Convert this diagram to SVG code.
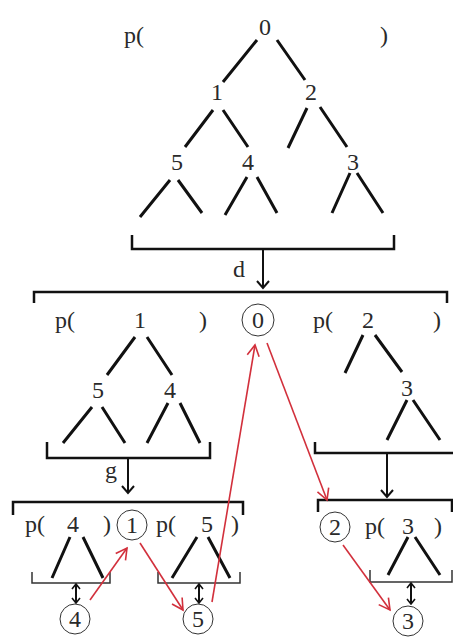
<svg xmlns="http://www.w3.org/2000/svg" width="453" height="637" viewBox="0 0 453 637">
<defs>
<style>
text{font-family:"Liberation Serif","Times New Roman",Times,serif;font-size:24px;fill:#2a2a2a;}
.m{text-anchor:middle;}
.e{stroke:#111;stroke-width:3;stroke-linecap:butt;fill:none;}
.b{stroke:#111;stroke-width:2.5;fill:none;}
.bt{stroke:#333;stroke-width:1.5;fill:none;}
.c{stroke:#333;stroke-width:1;fill:none;}
.k{stroke:#111;stroke-width:2;fill:none;}
.r{stroke:#d2303c;stroke-width:1.6;fill:none;}
</style>
<marker id="ak" markerUnits="userSpaceOnUse" markerWidth="14" markerHeight="14" refX="12" refY="7" orient="auto" viewBox="0 0 14 14">
<path d="M5,1 L12,7 L5,13" fill="none" stroke="#111" stroke-width="2"/>
</marker>
<marker id="ad" markerUnits="userSpaceOnUse" markerWidth="10" markerHeight="10" refX="9" refY="5" orient="auto-start-reverse" viewBox="0 0 10 10">
<path d="M4,1 L9,5 L4,9" fill="none" stroke="#111" stroke-width="1.6"/>
</marker>
<marker id="ar" markerUnits="userSpaceOnUse" markerWidth="16" markerHeight="16" refX="14" refY="8" orient="auto" viewBox="0 0 16 16">
<path d="M3,2 L14,8 L3,14" fill="none" stroke="#d2303c" stroke-width="1.6"/>
</marker>
</defs>
<rect width="453" height="637" fill="#fff"/>

<g id="top-tree">
<text x="124" y="43">p(</text>
<text x="380" y="43">)</text>
<text class="m" x="265" y="35">0</text>
<text class="m" x="217" y="100">1</text>
<text class="m" x="311" y="100">2</text>
<text class="m" x="177" y="170">5</text>
<text class="m" x="248" y="170">4</text>
<text class="m" x="353" y="170">3</text>
<path class="e" d="M257,40 L223,82 M277,40 L305,80 M213,110 L185,147 M223,110 L248,147 M307,108 L288,148 M320,107 L347,147 M170,180 L140,217 M178,180 L202,213 M247,177 L225,215 M257,177 L277,213 M350,173 L332,213 M357,173 L383,213"/>
<path class="b" d="M132,235 V249 H394 V235"/>
</g>

<g id="d-step">
<text x="233" y="277">d</text>
<path class="b" d="M34,303 V292 H447 V303"/>
</g>

<g id="left-tree">
<text x="55" y="328">p(</text>
<text x="199" y="328">)</text>
<text class="m" x="140" y="328">1</text>
<text class="m" x="98" y="398">5</text>
<text class="m" x="170" y="398">4</text>
<path class="e" d="M135,337 L107,375 M147,337 L172,375 M92,407 L63,443 M102,407 L125,443 M168,403 L147,443 M180,403 L200,443"/>
<path class="b" d="M47,442 V458 H210 V442"/>
</g>

<g id="node-0">
<circle class="c" cx="258" cy="320" r="16"/>
<text class="m" x="258" y="328">0</text>
</g>

<g id="right-tree">
<text x="313" y="328">p(</text>
<text x="433" y="328">)</text>
<text class="m" x="368" y="328">2</text>
<text class="m" x="407" y="396">3</text>
<path class="e" d="M363,335 L345,373 M375,335 L402,372 M407,400 L387,440 M413,400 L440,440"/>
<path class="b" d="M315,442 V453 H453"/>
</g>

<g id="g-step">
<text x="105" y="478">g</text>
<path class="b" d="M13,515 V502 H243 V515"/>
</g>

<g id="p4">
<text x="25" y="532">p(</text>
<text class="m" x="73" y="532">4</text>
<text x="103" y="532">)</text>
<path class="e" d="M70,537 L52,578 M83,537 L103,578"/>
<path class="bt" d="M32,572 V583 H110 V572"/>
</g>

<g id="node-1">
<circle class="c" cx="132" cy="525" r="15"/>
<text class="m" x="132" y="533">1</text>
</g>

<g id="p5">
<text x="156" y="532">p(</text>
<text class="m" x="207" y="532">5</text>
<text x="231" y="532">)</text>
<path class="e" d="M197,537 L172,578 M208,537 L230,578"/>
<path class="bt" d="M158,572 V583 H240 V572"/>
</g>

<g id="bracket-right-bottom">
<path class="b" d="M318,512 V500 H452 V512"/>
</g>

<g id="node-2">
<circle class="c" cx="335" cy="527" r="15"/>
<text class="m" x="335" y="535">2</text>
</g>

<g id="p3">
<text x="365" y="534">p(</text>
<text class="m" x="408" y="534">3</text>
<text x="434" y="534">)</text>
<path class="e" d="M408,537 L388,575 M415,537 L440,575"/>
<path class="bt" d="M370,570 V582 H452 V570"/>
</g>

<g id="node-4">
<circle class="c" cx="75" cy="619" r="15"/>
<text class="m" x="75" y="627">4</text>
</g>
<g id="node-5">
<circle class="c" cx="198" cy="619" r="15"/>
<text class="m" x="198" y="627">5</text>
</g>
<g id="node-3">
<circle class="c" cx="408" cy="621" r="15"/>
<text class="m" x="408" y="629">3</text>
</g>

<g id="connectors">
<path class="k" d="M263,249 V288" marker-end="url(#ak)"/>
<path class="k" d="M128,458 V493" marker-end="url(#ak)"/>
<path class="k" d="M387,453 V497" marker-end="url(#ak)"/>
<path class="k" d="M76,584 V603" marker-start="url(#ad)" marker-end="url(#ad)"/>
<path class="k" d="M199,584 V603" marker-start="url(#ad)" marker-end="url(#ad)"/>
<path class="k" d="M411,583 V604" marker-start="url(#ad)" marker-end="url(#ad)"/>
<path class="r" d="M90,600 L127,548" marker-end="url(#ar)"/>
<path class="r" d="M140,543 L183,610" marker-end="url(#ar)"/>
<path class="r" d="M212,602 L255,345" marker-end="url(#ar)"/>
<path class="r" d="M267,343 L327,500" marker-end="url(#ar)"/>
<path class="r" d="M343,545 L390,610" marker-end="url(#ar)"/>
</g>
</svg>
